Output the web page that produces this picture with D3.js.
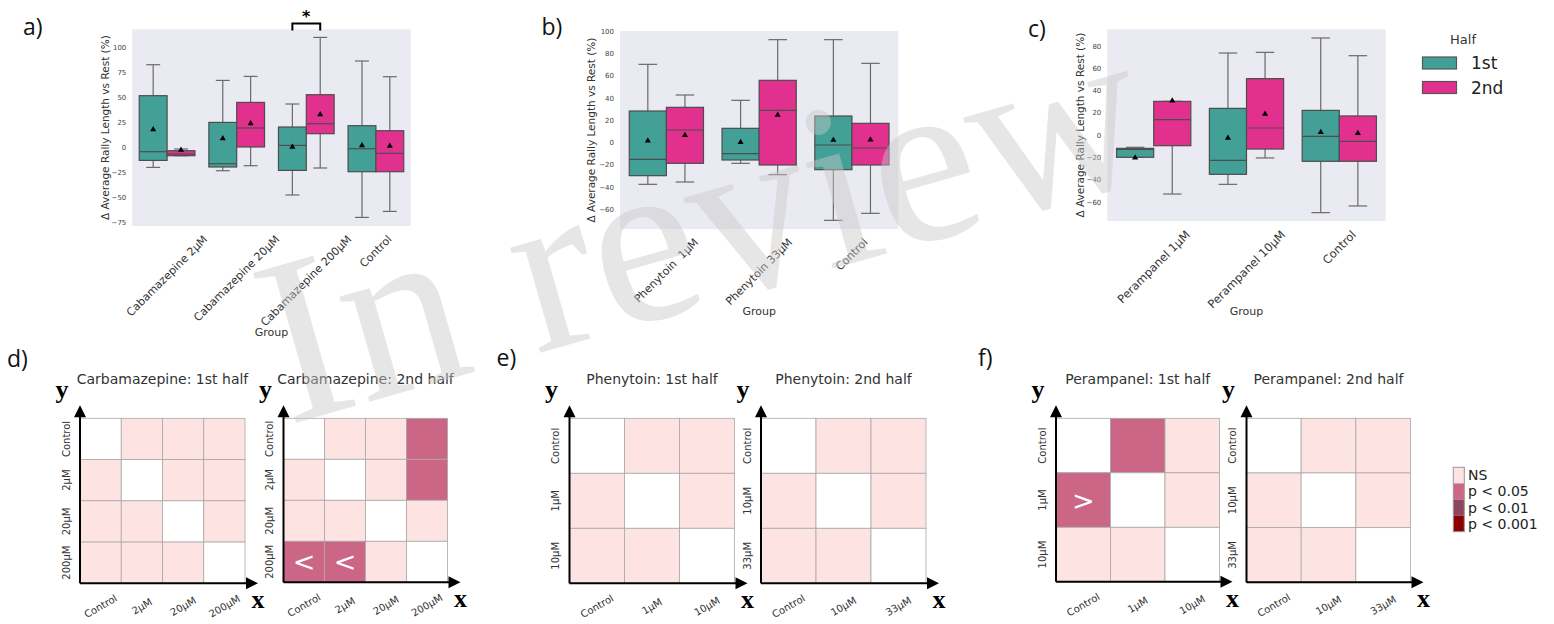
<!DOCTYPE html>
<html>
<head>
<meta charset="utf-8">
<script src="https://cdn.jsdelivr.net/npm/d3@7"></script>
<style>
  body { margin: 0; background: #fff; }
  svg  { display: block; }
</style>
</head>
<body>
<div id="chart"></div>
<script>
'use strict';

// ---- box plot data: [low whisker, Q1, median, Q3, high whisker, mean] ----
const halves     = ['1st', '2nd'];
const halfColors = ['#43a097', '#e1308e'];

const groupsA = ['Cabamazepine 2µM', 'Cabamazepine 20µM', 'Cabamazepine 200µM', 'Control'];
const firstA  = [[-19.7, -12.7, -4, 52, 83, 18.3],
                 [-23, -19.3, -16, 25.3, 67.3, 9.3],
                 [-47.3, -22.7, 2.3, 20.7, 43.7, 0.7],
                 [-69.7, -24, -1, 22, 86.7, 2.3]];
const secondA = [[-8, -8, -6.3, -3, -1.3, -2.3],
                 [-18, 0.7, 19.7, 45.3, 71.3, 24.3],
                 [-20.3, 14, 24, 53, 110.3, 33.3],
                 [-63.7, -24, -5.7, 17, 71, 1.7]];
const ticksA  = [-75, -50, -25, 0, 25, 50, 75, 100];

const groupsB = ['Phenytoin  1µM', 'Phenytoin 33µM', 'Control'];
const firstB  = [[-37.8, -30, -15.3, 28.2, 70.2, 1.5],
                 [-18.9, -15.9, -10.2, 12.6, 37.8, 0],
                 [-70.2, -24.6, -2.4, 23.7, 92.4, 2.1]];
const secondB = [[-35.7, -18.9, 11.1, 31.5, 42.6, 6.3],
                 [-29.1, -20.4, 28.8, 55.8, 92.4, 24.6],
                 [-63.9, -20.4, -5.1, 17.1, 71.1, 2.4]];
const ticksB  = [-60, -40, -20, 0, 20, 40, 60, 80, 100];

const groupsC = ['Perampanel 1µM', 'Perampanel 10µM', 'Control'];
const firstC  = [[-20, -20, -13, -12, -11, -20.5],
                 [-44.3, -35.3, -22.7, 23.9, 73.6, -2.7],
                 [-69.7, -23.6, -1.2, 22.1, 87.1, 2.4]];
const secondC = [[-53, -9.6, 13.8, 30.2, 30.2, 30.8],
                 [-20.6, -12.6, 6.3, 50.6, 74.2, 18.9],
                 [-63.7, -23.6, -5.7, 17.1, 71.2, 1.5]];
const ticksC  = [-60, -40, -20, 0, 20, 40, 60, 80];

// ---- pairwise significance: 0 = same group, 1 = NS, 2 = p<0.05, 3 = p<0.01, 4 = p<0.001 ----
const levelNames  = ['NS', 'p < 0.05', 'p < 0.01', 'p < 0.001'];
const levelColors = ['#fde3e1', '#cc6686', '#8c4661', '#8b0000'];

const labelsD = ['Control', '2µM', '20µM', '200µM'];
const heatD1  = [[0, 1, 1, 1], [1, 0, 1, 1], [1, 1, 0, 1], [1, 1, 1, 0]];
const heatD2  = [[0, 1, 1, 2], [1, 0, 1, 2], [1, 1, 0, 1], [2, 2, 1, 0]];
const signD2  = [['', '', '', ''], ['', '', '', ''], ['', '', '', ''], ['<', '<', '', '']];

const labelsE1 = ['Control', '1µM', '10µM'];
const labelsE2 = ['Control', '10µM', '33µM'];
const heatE1   = [[0, 1, 1], [1, 0, 1], [1, 1, 0]];
const heatE2   = [[0, 1, 1], [1, 0, 1], [1, 1, 0]];

const labelsF1 = ['Control', '1µM', '10µM'];
const labelsF2 = ['Control', '10µM', '33µM'];
const heatF1   = [[0, 2, 1], [2, 0, 1], [1, 1, 0]];
const signF1   = [['', '', ''], ['>', '', ''], ['', '', '']];
const heatF2   = [[0, 1, 1], [1, 0, 1], [1, 1, 0]];

const W = 1554, H = 624;
const svg = d3.select('#chart').append('svg')
    .attr('width', W).attr('height', H)
    .style('font-family', "'DejaVu Sans', sans-serif");

const boxLine  = '#4d4d4d';
const whisLine = '#6a6a6a';

function boxPanel(cfg) {
    const x = d3.scaleBand().domain(cfg.groups).range([cfg.x0, cfg.x1]);
    const hue = d3.scaleBand().domain(halves).range([0, x.bandwidth()]).paddingOuter(0.25);
    const y = d3.scaleLinear().domain(cfg.domain).range([cfg.y1, cfg.y0]);
    const g = svg.append('g');

    g.append('rect')
        .attr('x', cfg.x0).attr('y', cfg.y0)
        .attr('width', cfg.x1 - cfg.x0).attr('height', cfg.y1 - cfg.y0)
        .attr('fill', '#eaeaf2');

    const series = [cfg.first, cfg.second];
    cfg.groups.forEach(function(grp, i) {
        halves.forEach(function(h, k) {
            const s = series[k][i];
            const bw = hue.bandwidth();
            const bx = x(grp) + hue(h);
            const cx = bx + bw / 2;
            // whiskers
            g.append('line').attr('x1', cx).attr('x2', cx).attr('y1', y(s[0])).attr('y2', y(s[1]))
                .attr('stroke', whisLine).attr('stroke-width', 1.2);
            g.append('line').attr('x1', cx).attr('x2', cx).attr('y1', y(s[3])).attr('y2', y(s[4]))
                .attr('stroke', whisLine).attr('stroke-width', 1.2);
            [s[0], s[4]].forEach(function(v) {
                g.append('line').attr('x1', cx - bw / 4).attr('x2', cx + bw / 4)
                    .attr('y1', y(v)).attr('y2', y(v))
                    .attr('stroke', whisLine).attr('stroke-width', 1.2);
            });
            g.append('rect')
                .attr('x', bx).attr('y', y(s[3]))
                .attr('width', bw).attr('height', Math.max(0.5, y(s[1]) - y(s[3])))
                .attr('fill', halfColors[k])
                .attr('stroke', boxLine).attr('stroke-width', 1.2);
            g.append('line').attr('x1', bx).attr('x2', bx + bw).attr('y1', y(s[2])).attr('y2', y(s[2]))
                .attr('stroke', boxLine).attr('stroke-width', 1.2);
            g.append('path')
                .attr('d', d3.symbol(d3.symbolTriangle).size(16)())
                .attr('transform', 'translate(' + cx + ',' + y(s[5]) + ')')
                .attr('fill', '#000');
        });
    });

    // y axis
    const ax = g.append('g')
        .attr('transform', 'translate(' + cfg.x0 + ',0)')
        .call(d3.axisLeft(y).tickValues(cfg.ticks).tickSize(0).tickPadding(6));
    ax.select('.domain').remove();
    ax.selectAll('text').attr('font-size', 7).attr('fill', '#444')
        .attr('font-family', "'DejaVu Sans', sans-serif");

    g.append('text')
        .attr('transform', 'translate(' + cfg.labelX + ',' + (cfg.y0 + cfg.y1) / 2 + ') rotate(-90)')
        .attr('text-anchor', 'middle').attr('dominant-baseline', 'central')
        .attr('font-size', 10.5).attr('fill', '#333')
        .text('Δ Average Rally Length vs Rest (%)');

    // rotated group labels, centred on the tick like matplotlib
    cfg.groups.forEach(function(grp) {
        const t = g.append('text')
            .attr('text-anchor', 'middle').attr('dominant-baseline', 'central')
            .attr('font-size', cfg.tickFont).attr('fill', '#333')
            .style('white-space', 'pre')
            .text(grp);
        const len = t.node().getComputedTextLength();
        const hgt = cfg.tickFont * 1.15;
        const cy = cfg.y1 + 7 + (len + hgt) * Math.SQRT1_2 / 2;
        const cx = x(grp) + x.bandwidth() / 2;
        t.attr('transform', 'translate(' + cx + ',' + cy + ') rotate(-45)');
    });

    g.append('text')
        .attr('x', (cfg.x0 + cfg.x1) / 2).attr('y', cfg.groupY)
        .attr('text-anchor', 'middle').attr('dominant-baseline', 'central')
        .attr('font-size', 11).attr('fill', '#333')
        .text('Group');

    return { x: x, y: y, hue: hue };
}

const pa = boxPanel({ groups: groupsA, first: firstA, second: secondA, ticks: ticksA,
    x0: 132.3, x1: 410.7, y0: 29.3, y1: 226, domain: [-78.3, 118.4],
    labelX: 105, groupY: 332, tickFont: 11 });
boxPanel({ groups: groupsB, first: firstB, second: secondB, ticks: ticksB,
    x0: 620, x1: 898.3, y0: 31, y1: 229, domain: [-78, 100.2],
    labelX: 591, groupY: 311.7, tickFont: 11 });
boxPanel({ groups: groupsC, first: firstC, second: secondC, ticks: ticksC,
    x0: 1107.3, x1: 1385.7, y0: 29.3, y1: 221, domain: [-77.2, 94.9],
    labelX: 1080, groupY: 311.7, tickFont: 11.5 });

// significance bracket over Cabamazepine 200µM
(function() {
    const grp = groupsA[2];
    const xl = pa.x(grp) + pa.hue('1st') + pa.hue.bandwidth() / 2;
    const xr = pa.x(grp) + pa.hue('2nd') + pa.hue.bandwidth() / 2;
    svg.append('path')
        .attr('d', 'M' + xl + ',30.5V23.5H' + xr + 'V30.5')
        .attr('fill', 'none').attr('stroke', '#000').attr('stroke-width', 2);
    svg.append('text').attr('x', (xl + xr) / 2).attr('y', 22)
        .attr('text-anchor', 'middle').attr('font-size', 16).attr('font-weight', 'bold')
        .text('*');
})();

// legend for halves
svg.append('text').attr('x', 1463).attr('y', 44).attr('text-anchor', 'middle')
    .attr('font-size', 13).attr('fill', '#333').text('Half');
halves.forEach(function(h, k) {
    const yy = 57 + k * 24.5;
    svg.append('rect').attr('x', 1422.5).attr('y', yy).attr('width', 34).attr('height', 12)
        .attr('fill', halfColors[k]).attr('stroke', '#555').attr('stroke-width', 1.2);
    svg.append('text').attr('x', 1471).attr('y', yy + 6).attr('dominant-baseline', 'central')
        .attr('font-size', 17).attr('fill', '#222').text(h);
});

// ---- heatmaps ----
function heatPanel(cfg) {
    const n = cfg.labels.length;
    const col = d3.scaleBand().domain(d3.range(n)).range([cfg.x0, cfg.x0 + cfg.size]);
    const row = d3.scaleBand().domain(d3.range(n)).range([cfg.y0, cfg.y0 + cfg.size]);
    const g = svg.append('g');
    const x1 = cfg.x0 + cfg.size, y1 = cfg.y0 + cfg.size;

    g.append('text').attr('x', cfg.x0 + cfg.size / 2).attr('y', cfg.y0 - 34)
        .attr('text-anchor', 'middle').attr('font-size', 14).attr('fill', '#333')
        .text(cfg.title);

    cfg.levels.forEach(function(r, i) {
        r.forEach(function(v, j) {
            g.append('rect')
                .attr('x', col(j)).attr('y', row(i))
                .attr('width', col.bandwidth()).attr('height', row.bandwidth())
                .attr('fill', v === 0 ? '#ffffff' : levelColors[v - 1])
                .attr('stroke', '#a9a9a9').attr('stroke-width', 0.8);
            const mk = cfg.signs ? cfg.signs[i][j] : '';
            if (mk) {
                g.append('text')
                    .attr('x', col(j) + col.bandwidth() / 2).attr('y', row(i) + row.bandwidth() / 2)
                    .attr('text-anchor', 'middle').attr('dominant-baseline', 'central')
                    .attr('font-size', 27).attr('fill', '#fff').text(mk);
            }
        });
    });

    // arrows
    g.append('line').attr('x1', cfg.x0).attr('y1', y1).attr('x2', cfg.x0).attr('y2', cfg.y0 - 2)
        .attr('stroke', '#000').attr('stroke-width', 2);
    g.append('line').attr('x1', cfg.x0).attr('y1', y1).attr('x2', x1 + 2).attr('y2', y1)
        .attr('stroke', '#000').attr('stroke-width', 2);
    g.append('path')
        .attr('d', 'M' + (cfg.x0 - 6) + ',' + (cfg.y0 - 1) + 'L' + cfg.x0 + ',' + (cfg.y0 - 13) +
                   'L' + (cfg.x0 + 6) + ',' + (cfg.y0 - 1) + 'Z');
    g.append('path')
        .attr('d', 'M' + (x1 + 1) + ',' + (y1 - 6) + 'L' + (x1 + 13) + ',' + y1 +
                   'L' + (x1 + 1) + ',' + (y1 + 6) + 'Z');
    g.append('text').attr('x', cfg.x0 - 18).attr('y', cfg.y0 - 20)
        .attr('text-anchor', 'middle')
        .attr('font-family', "'Liberation Serif', serif").attr('font-weight', 'bold')
        .attr('font-size', 26).text('y');
    g.append('text').attr('x', x1 + 13).attr('y', y1 + 25)
        .attr('text-anchor', 'middle')
        .attr('font-family', "'Liberation Serif', serif").attr('font-weight', 'bold')
        .attr('font-size', 26).text('x');

    cfg.labels.forEach(function(lab, i) {
        g.append('text')
            .attr('transform', 'translate(' + (cfg.x0 - 14) + ',' + (row(i) + row.bandwidth() / 2) + ') rotate(-90)')
            .attr('text-anchor', 'middle').attr('dominant-baseline', 'central')
            .attr('font-size', 10).attr('fill', '#333').text(lab);
        g.append('text')
            .attr('transform', 'translate(' + (col(i) + col.bandwidth() / 2) + ',' + (y1 + 23) + ') rotate(-30)')
            .attr('text-anchor', 'middle').attr('dominant-baseline', 'central')
            .attr('font-size', 10).attr('fill', '#333').text(lab);
    });
}

heatPanel({ title: 'Carbamazepine: 1st half', labels: labelsD, levels: heatD1,
    x0: 80, y0: 418.3, size: 165 });
heatPanel({ title: 'Carbamazepine: 2nd half', labels: labelsD, levels: heatD2, signs: signD2,
    x0: 283.5, y0: 418.3, size: 164 });
heatPanel({ title: 'Phenytoin: 1st half', labels: labelsE1, levels: heatE1,
    x0: 569.5, y0: 418.3, size: 165 });
heatPanel({ title: 'Phenytoin: 2nd half', labels: labelsE2, levels: heatE2,
    x0: 761, y0: 418.3, size: 165 });
heatPanel({ title: 'Perampanel: 1st half', labels: labelsF1, levels: heatF1, signs: signF1,
    x0: 1056, y0: 418.3, size: 163.5 });
heatPanel({ title: 'Perampanel: 2nd half', labels: labelsF2, levels: heatF2,
    x0: 1246.5, y0: 418.3, size: 164 });

// significance legend
const lg = d3.scaleBand().domain(levelNames).range([467.3, 531.7]);
levelNames.forEach(function(nm, k) {
    svg.append('rect').attr('x', 1453.3).attr('y', lg(nm)).attr('width', 11).attr('height', lg.bandwidth())
        .attr('fill', levelColors[k]);
    svg.append('text').attr('x', 1468).attr('y', lg(nm) + lg.bandwidth() / 2)
        .attr('dominant-baseline', 'central').attr('font-size', 14).attr('fill', '#222').text(nm);
});
svg.append('rect').attr('x', 1453.3).attr('y', 467.3).attr('width', 11).attr('height', 64.4)
    .attr('fill', 'none').attr('stroke', '#999').attr('stroke-width', 1);

// panel letters
[['a)', 23, 26], ['b)', 541.5, 26], ['c)', 1028, 28],
 ['d)', 7, 358], ['e)', 496.5, 357], ['f)', 978, 357]].forEach(function(p) {
    svg.append('text').attr('x', p[1]).attr('y', p[2]).attr('dominant-baseline', 'central')
        .attr('font-family', "'Open Sans', sans-serif").attr('font-size', 23).attr('fill', '#111')
        .text(p[0]);
});

// watermark
svg.append('text')
    .attr('transform', 'translate(288,425) rotate(-16)')
    .attr('font-family', "'Liberation Serif', serif").attr('font-size', 238)
    .attr('fill', '#c8c8c8').attr('fill-opacity', 0.45)
    .text('In review');
</script>
</body>
</html>
